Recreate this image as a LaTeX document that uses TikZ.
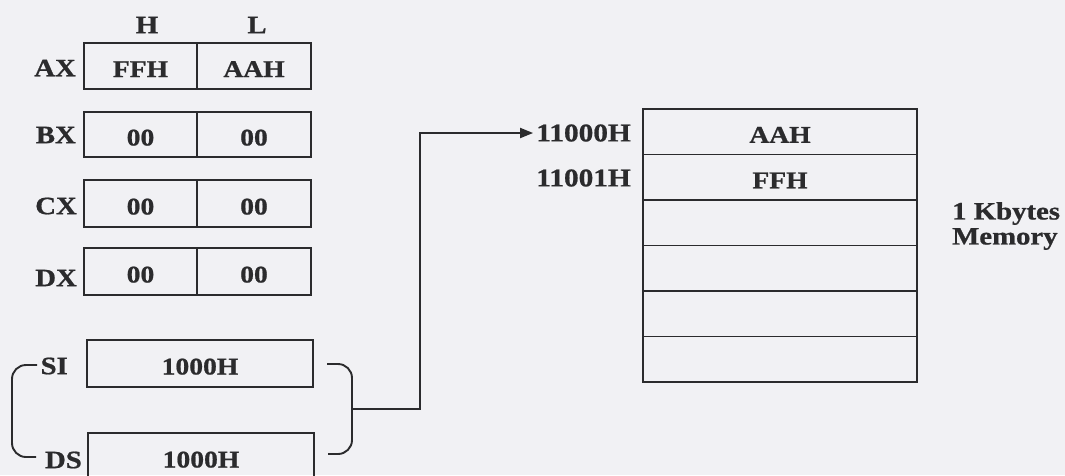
\documentclass[tikz,border=0pt]{standalone}
\usepackage{fontspec}
\setmainfont[FakeStretch=1.15, BoldFeatures={FakeBold=0.8}]{Liberation Serif}
\usetikzlibrary{arrows.meta}
\definecolor{ink}{RGB}{43,43,45}
\definecolor{paper}{RGB}{241,241,244}
\tikzset{
  regname/.style={font=\fontsize{25}{30}\selectfont\bfseries, text=ink, inner sep=0pt},
  cell/.style={draw=ink, line width=1.9pt, font=\fontsize{24}{28}\selectfont\bfseries,
               text=ink, inner sep=0pt, text height=22pt, text depth=0pt},
  memrow/.style={cell, minimum width=274pt, minimum height=45.5pt},
  addr/.style={font=\fontsize{25.5}{29}\selectfont\bfseries, text=ink, inner sep=0pt, anchor=east},
  wire/.style={draw=ink, line width=1.9pt},
}
\begin{document}
\begin{tikzpicture}[x=1pt, y=-1pt]
\useasboundingbox (0,0) rectangle (1065,475);
\clip (0,0) rectangle (1065,475);
\fill[paper] (0,0) rectangle (1065,475);

% column headings
\node[regname] (hH) at (147,25) {H};
\node[regname] (hL) at (257,25) {L};

% general purpose registers, high and low halves
\foreach \r/\y/\h/\hv/\lv in {ax/66/46/FFH/AAH, bx/134.5/45/00/00, cx/203.5/47/00/00, dx/271.5/47/00/00} {
  \node[cell, minimum width=113pt, minimum height=\h pt] (\r h) at (140.5,\y) {\hv};
  \node[cell, minimum width=114pt, minimum height=\h pt] (\r l) at (254,\y) {\lv};
}
\node[regname, anchor=east] (axn) at (76,68) {AX};
\node[regname, anchor=east] (bxn) at (76,135) {BX};
\node[regname, anchor=east] (cxn) at (77,206) {CX};
\node[regname, anchor=east] (dxn) at (77,278) {DX};

% index and segment registers
\node[cell, minimum width=226pt, minimum height=47pt] (si) at (200,363.5) {1000H};
\node[cell, minimum width=226pt, minimum height=47pt] (ds) at (201,456.5) {1000H};
\node[regname, anchor=east] (sin) at (68,366) {SI};
\node[regname, anchor=east] (dsn) at (82,460) {DS};

% brackets pairing SI and DS
\draw[wire, rounded corners=14pt] (37,365) -- (12,365) -- (12,457) -- (36,457);
\draw[wire, rounded corners=14pt] (327,364) -- (352,364) -- (352,454) -- (328,454);
\coordinate (brk) at (352,409);

% memory block
\foreach \i/\y/\v in {1/131.75/AAH, 2/177.25/FFH, 3/222.75/, 4/268.25/, 5/313.75/, 6/359.25/} {
  \node[memrow] (m\i) at (780,\y) {\v};
}
\node[addr] (a0) at (631,133) {11000H};
\node[addr] (a1) at (631,178) {11001H};
\node[font=\fontsize{25}{25}\selectfont\bfseries, text=ink, align=left, anchor=west, inner sep=0pt]
  (memlbl) at (952,226) {1 Kbytes\\Memory};

% physical address pointer
\draw[wire, -{Triangle[length=13pt,width=10pt]}] (brk) -- (420,409) |- ([xshift=-3pt]a0.west);
\end{tikzpicture}
\end{document}
